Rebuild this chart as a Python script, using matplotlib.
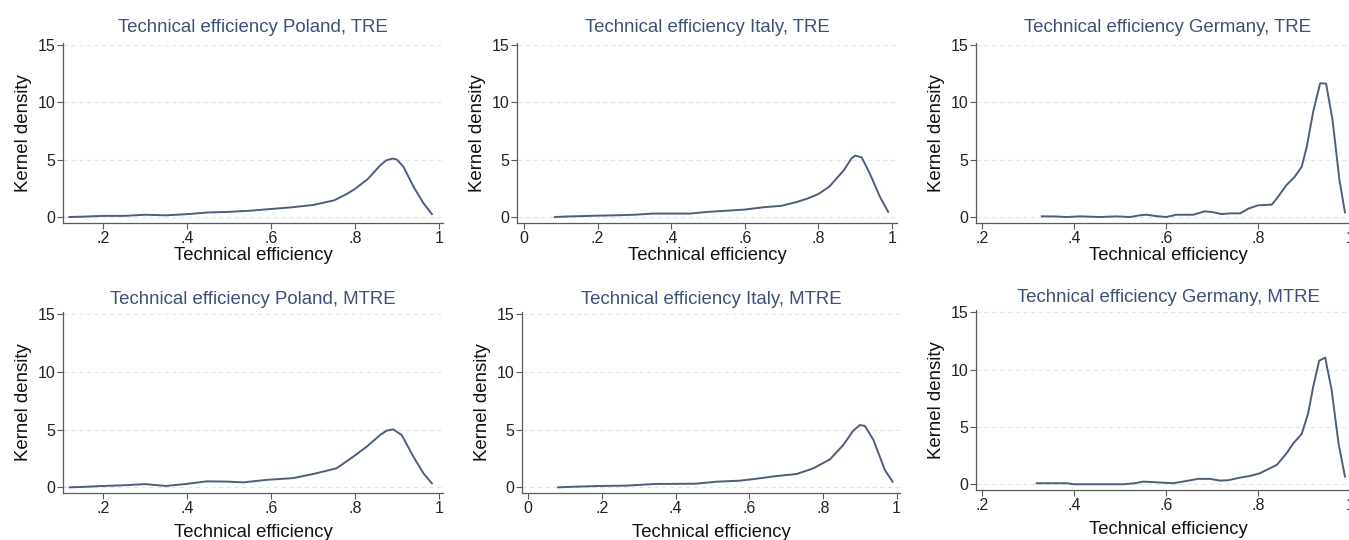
import matplotlib.pyplot as plt

plt.rcParams['font.family'] = ['Liberation Sans', 'DejaVu Sans']

# kernel density curves
pl_tre_x = [0.12, 0.15, 0.2, 0.25, 0.3, 0.35, 0.4, 0.45, 0.5, 0.55, 0.6, 0.65, 0.7, 0.725,
            0.75, 0.78, 0.8, 0.83, 0.86, 0.875, 0.89, 0.9, 0.915, 0.94, 0.963, 0.983]
pl_tre_y = [0.0, 0.03, 0.1, 0.1, 0.2, 0.15, 0.25, 0.4, 0.45, 0.55, 0.7, 0.85, 1.05, 1.25,
            1.45, 2.0, 2.45, 3.3, 4.5, 4.95, 5.1, 5.0, 4.4, 2.6, 1.2, 0.26]

it_tre_x = [0.084, 0.12, 0.2, 0.25, 0.3, 0.35, 0.4, 0.45, 0.5, 0.55, 0.6, 0.65, 0.7, 0.74,
            0.77, 0.8, 0.83, 0.87, 0.89, 0.9, 0.918, 0.94, 0.967, 0.99]
it_tre_y = [0.0, 0.05, 0.12, 0.15, 0.2, 0.3, 0.3, 0.3, 0.45, 0.55, 0.65, 0.85, 0.98, 1.3,
            1.6, 2.0, 2.65, 4.1, 5.1, 5.35, 5.2, 3.8, 1.8, 0.45]

de_tre_x = [0.33, 0.36, 0.384, 0.413, 0.457, 0.493, 0.522, 0.543, 0.558, 0.575, 0.6, 0.623,
            0.659, 0.685, 0.7, 0.721, 0.74, 0.761, 0.779, 0.8, 0.83, 0.841, 0.862, 0.88,
            0.895, 0.906, 0.92, 0.935, 0.948, 0.962, 0.977, 0.989]
de_tre_y = [0.06, 0.05, 0.0, 0.06, 0.0, 0.06, 0.0, 0.15, 0.2, 0.1, 0.0, 0.2,
            0.2, 0.5, 0.44, 0.26, 0.32, 0.32, 0.73, 1.02, 1.08, 1.63, 2.79, 3.52,
            4.39, 6.13, 9.19, 11.66, 11.63, 8.46, 3.23, 0.41]

pl_mtre_x = [0.121, 0.16, 0.2, 0.25, 0.3, 0.35, 0.4, 0.447, 0.495, 0.534, 0.59, 0.653, 0.701,
             0.756, 0.796, 0.828, 0.86, 0.875, 0.891, 0.911, 0.939, 0.963, 0.983]
pl_mtre_y = [0.0, 0.05, 0.12, 0.18, 0.28, 0.12, 0.3, 0.52, 0.5, 0.43, 0.65, 0.8, 1.16,
             1.65, 2.66, 3.53, 4.54, 4.91, 5.03, 4.54, 2.66, 1.21, 0.35]

it_mtre_x = [0.081, 0.12, 0.195, 0.267, 0.349, 0.4, 0.457, 0.511, 0.575, 0.62, 0.674, 0.729,
             0.774, 0.819, 0.855, 0.882, 0.9, 0.914, 0.937, 0.968, 0.989]
it_mtre_y = [0.0, 0.05, 0.12, 0.15, 0.3, 0.3, 0.32, 0.49, 0.58, 0.75, 0.98, 1.16,
             1.65, 2.43, 3.67, 4.91, 5.4, 5.32, 4.1, 1.5, 0.49]

de_mtre_x = [0.319, 0.35, 0.384, 0.4, 0.457, 0.507, 0.53, 0.551, 0.58, 0.616, 0.645, 0.67,
             0.696, 0.717, 0.735, 0.761, 0.783, 0.804, 0.826, 0.841, 0.862, 0.877, 0.895,
             0.909, 0.92, 0.933, 0.946, 0.96, 0.975, 0.989]
de_mtre_y = [0.09, 0.09, 0.09, 0.0, 0.0, 0.0, 0.08, 0.23, 0.17, 0.09, 0.29, 0.47,
             0.47, 0.32, 0.35, 0.58, 0.73, 0.96, 1.4, 1.69, 2.7, 3.58, 4.39,
             6.19, 8.52, 10.78, 11.05, 8.23, 3.58, 0.67]

titles = ['Technical efficiency Poland, TRE', 'Technical efficiency Italy, TRE',
          'Technical efficiency Germany, TRE', 'Technical efficiency Poland, MTRE',
          'Technical efficiency Italy, MTRE', 'Technical efficiency Germany, MTRE']
curves = [(pl_tre_x, pl_tre_y), (it_tre_x, it_tre_y), (de_tre_x, de_tre_y),
          (pl_mtre_x, pl_mtre_y), (it_mtre_x, it_mtre_y), (de_mtre_x, de_mtre_y)]
pl_ticks = [0.2, 0.4, 0.6, 0.8, 1.0]
pl_labels = ['.2', '.4', '.6', '.8', '1']
it_ticks = [0, 0.2, 0.4, 0.6, 0.8, 1.0]
it_labels = ['0', '.2', '.4', '.6', '.8', '1']
y_ticks = [0, 5, 10, 15]

W, H = 1349, 540
fig = plt.figure(figsize=(W / 100, H / 100), dpi=100)

# axes boxes in pixels: left, top, right, bottom ; plus limits
boxes = [
    ((63, 43, 443, 223), (0.105, 1.0095), (-0.52, 15.17)),
    ((517, 43, 897, 223), (-0.019, 1.014), (-0.52, 15.17)),
    ((976, 43, 1360, 223), (0.187, 1.0217), (-0.52, 15.17)),
    ((63, 312, 443, 493), (0.105, 1.0095), (-0.49, 15.2)),
    ((522, 312, 900, 493), (-0.017, 1.009), (-0.49, 15.2)),
    ((976, 310, 1360, 490), (0.187, 1.0217), (-0.5, 15.2)),
]

line_col = '#4d5d7e'
title_col = '#3e5077'
axis_col = '#5a5a5a'

for i, ((l, t, r, b), xl, yl) in enumerate(boxes):
    ax = fig.add_axes([l / W, 1 - b / H, (r - l) / W, (b - t) / H])
    x, y = curves[i]
    ax.plot(x, y, color=line_col, lw=1.4)
    ax.set_xlim(xl)
    ax.set_ylim(yl)
    if i % 3 == 1:
        ax.set_xticks(it_ticks, it_labels)
    else:
        ax.set_xticks(pl_ticks, pl_labels)
    ax.set_yticks(y_ticks, [str(v) for v in y_ticks])
    for v in y_ticks:
        ax.axhline(v, color='#e4e4e4', lw=0.8, dashes=(4, 3), zorder=0)
    for s in ['top', 'right']:
        ax.spines[s].set_visible(False)
    for s in ['left', 'bottom']:
        ax.spines[s].set_color(axis_col)
        ax.spines[s].set_linewidth(0.9)
    ax.tick_params(colors=axis_col, labelcolor='#222222', labelsize=11.5, length=4, width=0.8, pad=1.5)
    ax.set_title(titles[i], color=title_col, fontsize=13.4, pad=8 if i < 3 else 6)
    ax.set_xlabel('Technical efficiency', fontsize=13.3, color='#111111',
                  labelpad=1 if i < 3 else 6)
    ax.set_ylabel('Kernel density', fontsize=13.4, color='#111111', labelpad=4)

fig.savefig('out.png', dpi=100)
